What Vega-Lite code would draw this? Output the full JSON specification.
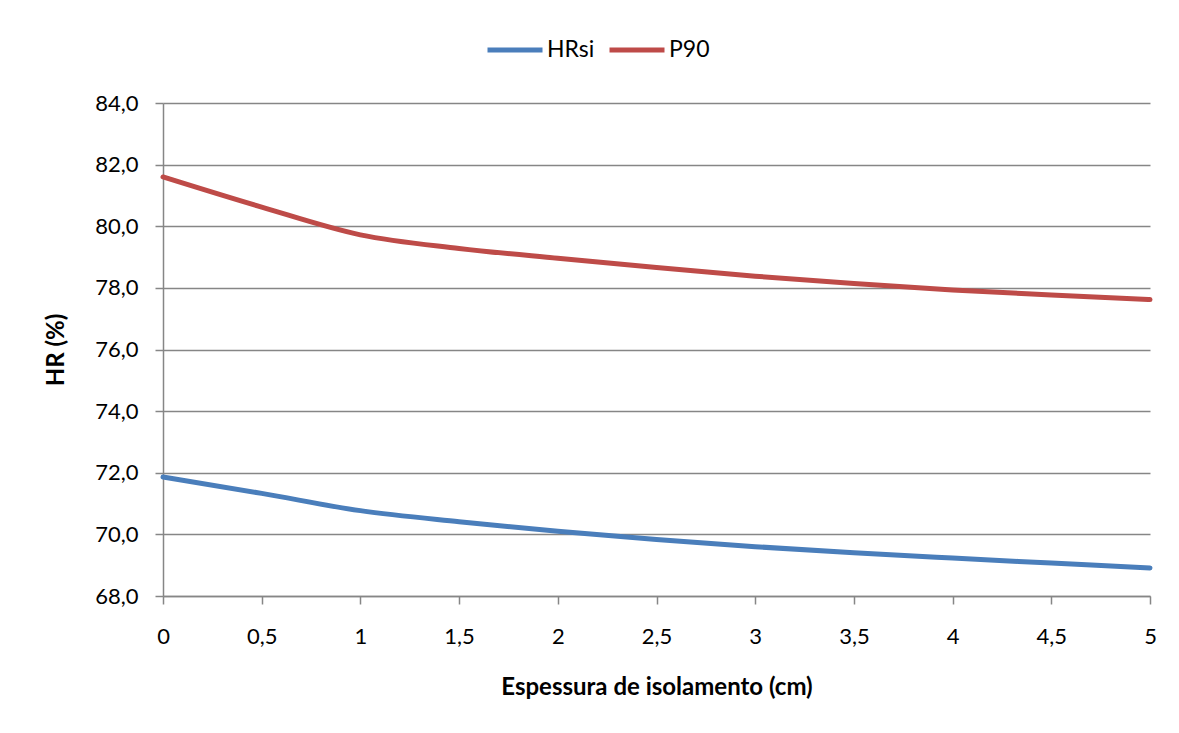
{
  "$schema": "https://vega.github.io/schema/vega-lite/v6.json",
  "width": 987,
  "height": 493,
  "autosize": {"type": "none"},
  "padding": {"left": 163, "top": 103, "right": 29, "bottom": 137},
  "background": "white",
  "config": {
    "locale": {"number": {"decimal": ",", "thousands": ".", "grouping": [3], "currency": ["", " €"]}},
    "font": "Lato",
    "view": {"stroke": null},
    "axis": {
      "labelFont": "Lato",
      "titleFont": "Lato",
      "labelFontSize": 22,
      "titleFontSize": 24,
      "labelColor": "#000000",
      "titleColor": "#000000",
      "titleFontWeight": "bold",
      "domainColor": "#868686",
      "domainWidth": 1.5,
      "tickColor": "#868686",
      "tickWidth": 1.5,
      "tickSize": 8,
      "gridColor": "#868686",
      "gridWidth": 1.5
    }
  },
  "data": {
    "values": [
      {"esp": 0, "serie": "HRsi", "hr": 71.86},
      {"esp": 0.5, "serie": "HRsi", "hr": 71.33},
      {"esp": 1, "serie": "HRsi", "hr": 70.77},
      {"esp": 1.5, "serie": "HRsi", "hr": 70.41},
      {"esp": 2, "serie": "HRsi", "hr": 70.1},
      {"esp": 2.5, "serie": "HRsi", "hr": 69.83},
      {"esp": 3, "serie": "HRsi", "hr": 69.6},
      {"esp": 3.5, "serie": "HRsi", "hr": 69.4},
      {"esp": 4, "serie": "HRsi", "hr": 69.23},
      {"esp": 4.5, "serie": "HRsi", "hr": 69.07},
      {"esp": 5, "serie": "HRsi", "hr": 68.91},
      {"esp": 0, "serie": "P90", "hr": 81.6},
      {"esp": 0.5, "serie": "P90", "hr": 80.62},
      {"esp": 1, "serie": "P90", "hr": 79.72},
      {"esp": 1.5, "serie": "P90", "hr": 79.28},
      {"esp": 2, "serie": "P90", "hr": 78.96},
      {"esp": 2.5, "serie": "P90", "hr": 78.66},
      {"esp": 3, "serie": "P90", "hr": 78.38},
      {"esp": 3.5, "serie": "P90", "hr": 78.14},
      {"esp": 4, "serie": "P90", "hr": 77.93},
      {"esp": 4.5, "serie": "P90", "hr": 77.77},
      {"esp": 5, "serie": "P90", "hr": 77.62}
    ]
  },
  "mark": {"type": "line", "interpolate": "monotone", "strokeWidth": 5, "strokeCap": "round"},
  "encoding": {
    "x": {
      "field": "esp",
      "type": "quantitative",
      "scale": {"domain": [0, 5], "nice": false},
      "axis": {
        "title": "Espessura de isolamento (cm)",
        "values": [0, 0.5, 1, 1.5, 2, 2.5, 3, 3.5, 4, 4.5, 5],
        "format": ".1~f",
        "grid": false,
        "labelPadding": 22,
        "titlePadding": 28,
        "labelFlush": false
      }
    },
    "y": {
      "field": "hr",
      "type": "quantitative",
      "scale": {"domain": [68, 84], "nice": false, "zero": false},
      "axis": {
        "title": "HR (%)",
        "values": [68, 70, 72, 74, 76, 78, 80, 82, 84],
        "format": ".1f",
        "grid": true,
        "labelPadding": 17,
        "titlePadding": 26
      }
    },
    "color": {
      "field": "serie",
      "type": "nominal",
      "scale": {"domain": ["HRsi", "P90"], "range": ["#4A7EBB", "#BE4B48"]},
      "legend": {
        "title": null,
        "orient": "none",
        "direction": "horizontal",
        "legendX": 322,
        "legendY": -83,
        "symbolType": "stroke",
        "symbolSize": 3025,
        "symbolStrokeWidth": 5,
        "labelFont": "Lato",
        "labelFontSize": 23,
        "labelColor": "#000000",
        "labelOffset": 2,
        "columnPadding": 4
      }
    }
  }
}
